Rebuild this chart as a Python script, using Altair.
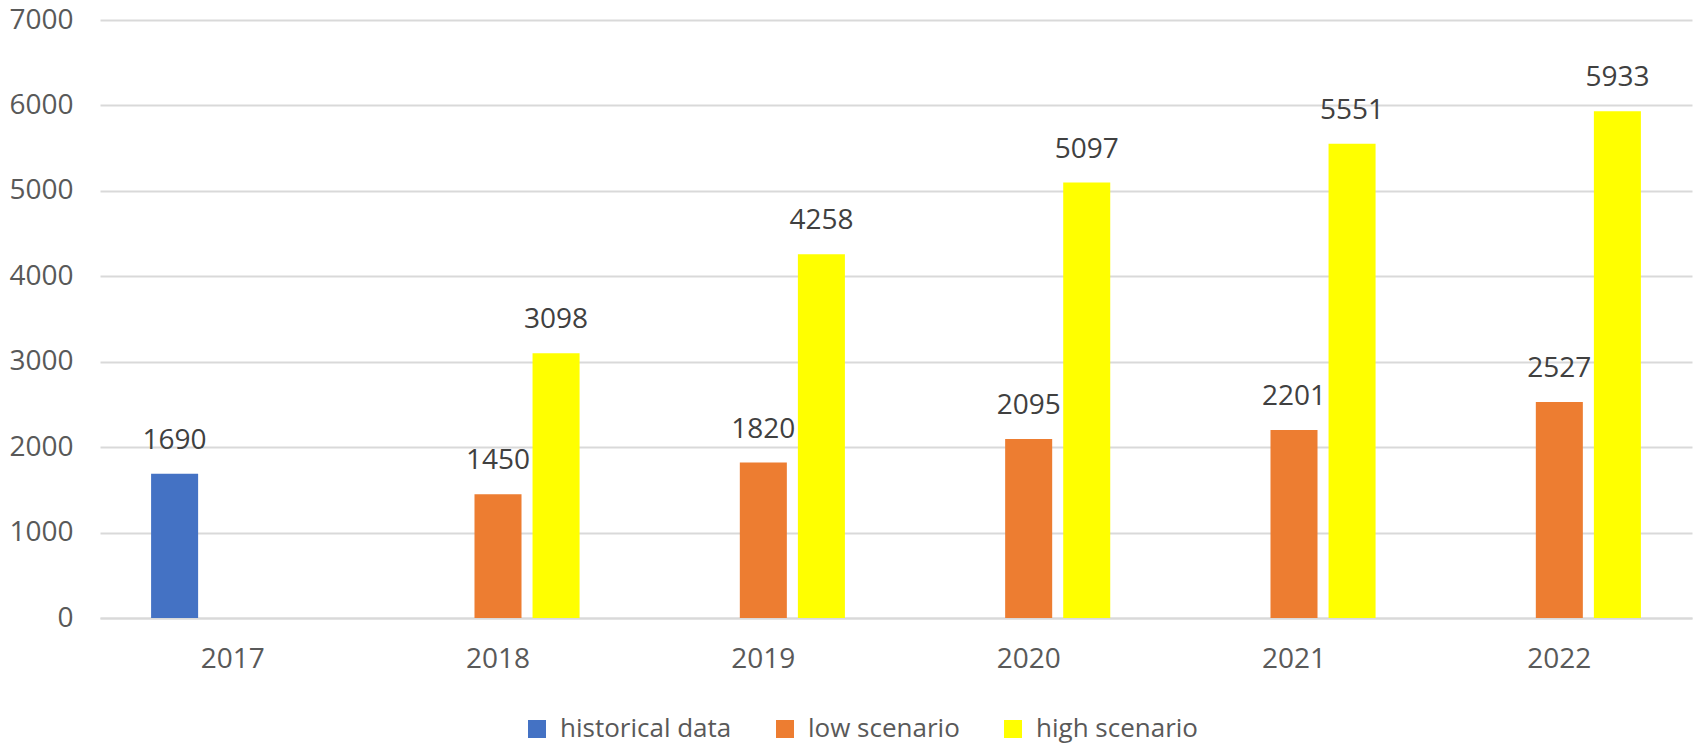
import altair as alt
import pandas as pd

years = ["2017", "2018", "2019", "2020", "2021", "2022"]
series_names = ["historical data", "low scenario", "high scenario"]
historical = [1690, None, None, None, None, None]
low = [None, 1450, 1820, 2095, 2201, 2527]
high = [None, 3098, 4258, 5097, 5551, 5933]
colors = ["#4472C4", "#ED7D31", "#FFFF00"]

rows = []
for name, vals in zip(series_names, [historical, low, high]):
    for y, v in zip(years, vals):
        if v is not None:
            rows.append({"year": y, "series": name, "value": v})
df = pd.DataFrame(rows)

FONT = "Open Sans"

base = alt.Chart(df).encode(
    x=alt.X("year:N", sort=years,
            scale=alt.Scale(paddingInner=0, paddingOuter=0),
            axis=alt.Axis(title=None, labelAngle=0, labelFontSize=28, labelFont=FONT,
                          labelColor="#595959", ticks=False, tickSize=0, labelPadding=27,
                          domain=True, domainColor="#d9d9d9", domainWidth=2)),
    xOffset=alt.XOffset("series:N", sort=series_names,
                        scale=alt.Scale(domain=series_names, paddingInner=0.19, paddingOuter=0.88)),
    y=alt.Y("value:Q",
            scale=alt.Scale(domain=[0, 7000], nice=False),
            axis=alt.Axis(title=None, values=[0, 1000, 2000, 3000, 4000, 5000, 6000, 7000],
                          format="d", labelFontSize=28, labelFont=FONT, labelColor="#595959",
                          ticks=False, domain=False, labelPadding=27,
                          grid=True, gridColor="#d9d9d9", gridWidth=2)),
)

bars = base.mark_bar().encode(
    color=alt.Color("series:N", sort=series_names,
                    scale=alt.Scale(domain=series_names, range=colors),
                    legend=alt.Legend(title=None, orient="none", direction="horizontal",
                                      legendX=424, legendY=696,
                                      symbolType="square", symbolSize=324, symbolStrokeWidth=0,
                                      labelFontSize=26, labelFont=FONT, labelColor="#595959",
                                      labelLimit=0, labelOffset=10, columnPadding=40))
)

labels = base.mark_text(baseline="alphabetic", dy=-25, fontSize=28, font=FONT,
                        color="#404040").encode(text=alt.Text("value:Q", format="d"))

chart = alt.layer(bars, labels).properties(
    width=1592, height=598,
    autosize=alt.AutoSizeParams(type="none"),
    padding={"left": 100, "top": 20, "right": 2, "bottom": 128},
).configure(background="white").configure_view(stroke=None)

chart.save("out.html", embed_options={"renderer": "svg", "actions": False})
